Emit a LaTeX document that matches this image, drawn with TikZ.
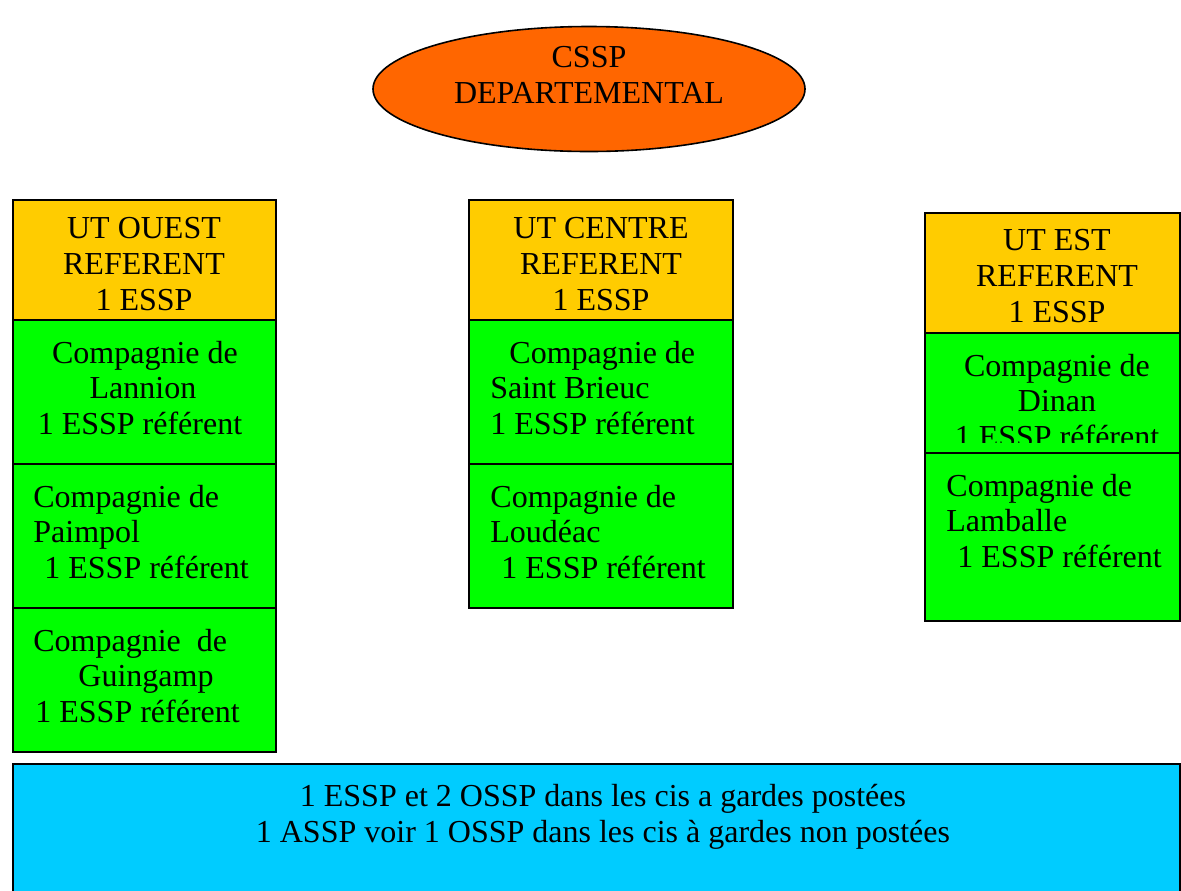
\documentclass[tikz,border=0pt]{standalone}
\usepackage{fontspec}
\setmainfont{Liberation Serif}
\usetikzlibrary{shapes.geometric}
\definecolor{csspor}{HTML}{FF6600}
\definecolor{utjaune}{HTML}{FFCC00}
\definecolor{cievert}{HTML}{00FF00}
\definecolor{cisbleu}{HTML}{00CCFF}
\begin{document}
\begin{tikzpicture}[x=0.5pt,y=-0.5pt,
  ut/.style={draw, line width=1pt, fill=utjaune},
  cie/.style={draw, line width=1pt, fill=cievert},
  txt/.style={inner sep=0pt, font=\fontsize{16}{17.8}\selectfont},
  ctxt/.style={txt, align=center},
  ltxt/.style={txt, align=left, anchor=west}]
\useasboundingbox (0,0) rectangle (1181,890);
\clip (0,0) rectangle (1181,890);
% departement
\node[ellipse, draw, line width=0.8pt, fill=csspor, minimum width=216pt, minimum height=62.5pt] (cssp) at (589,89) {};
\node[ctxt] (csspname) at (589,75) {CSSP\\DEPARTEMENTAL};
% UT ouest
\filldraw[ut] (13,200) rectangle (276,320);
\filldraw[cie] (13,320) rectangle (276,464);
\filldraw[cie] (13,464) rectangle (276,608);
\filldraw[cie] (13,608) rectangle (276,752);
\node[ctxt] (ouest) at (144,264) {UT OUEST\\REFERENT\\1 ESSP};
\node[ctxt] (lannion) at (140,388) {\hspace*{5pt}Compagnie de\\\hspace*{3pt}Lannion\\1 ESSP référent};
\node[ltxt] (paimpol) at (33,532) {Compagnie de\\Paimpol\\\hspace*{5.5pt}1 ESSP référent};
\node[ltxt] (guingamp) at (33,676) {Compagnie\hspace*{4pt} de\\\hspace*{22.5pt}Guingamp\\\hspace*{1pt}1 ESSP référent};
% UT centre
\filldraw[ut] (469,200) rectangle (733,320);
\filldraw[cie] (469,320) rectangle (733,464);
\filldraw[cie] (469,464) rectangle (733,608);
\node[ctxt] (centre) at (601,264) {UT CENTRE\\REFERENT\\1 ESSP};
\node[ltxt] (stbrieuc) at (490,388) {\hspace*{9.5pt}Compagnie de\\Saint Brieuc\\1 ESSP référent};
\node[ltxt] (loudeac) at (490,532) {Compagnie de\\Loudéac\\\hspace*{5.5pt}1 ESSP référent};
% UT est
\filldraw[ut] (925,213) rectangle (1180,333);
\filldraw[cie] (925,333) rectangle (1180,453);
\filldraw[cie] (925,453) rectangle (1180,621);
\node[ctxt] (est) at (1057,276) {UT EST\\REFERENT\\1 ESSP};
\begin{scope}
\clip (925,333) rectangle (1180,442);
\node[ctxt] (dinan) at (1057,401) {Compagnie de\\Dinan\\1 ESSP référent};
\end{scope}
\node[ltxt] (lamballe) at (946,521) {Compagnie de\\Lamballe\\\hspace*{5.5pt}1 ESSP référent};
% cis
\filldraw[draw, line width=1pt, fill=cisbleu] (13,764) rectangle (1180,900);
\node[ctxt] (cis) at (603,817) {1 ESSP et 2 OSSP dans les cis a gardes postées\\1 ASSP voir 1 OSSP dans les cis à gardes non postées};
\end{tikzpicture}
\end{document}
